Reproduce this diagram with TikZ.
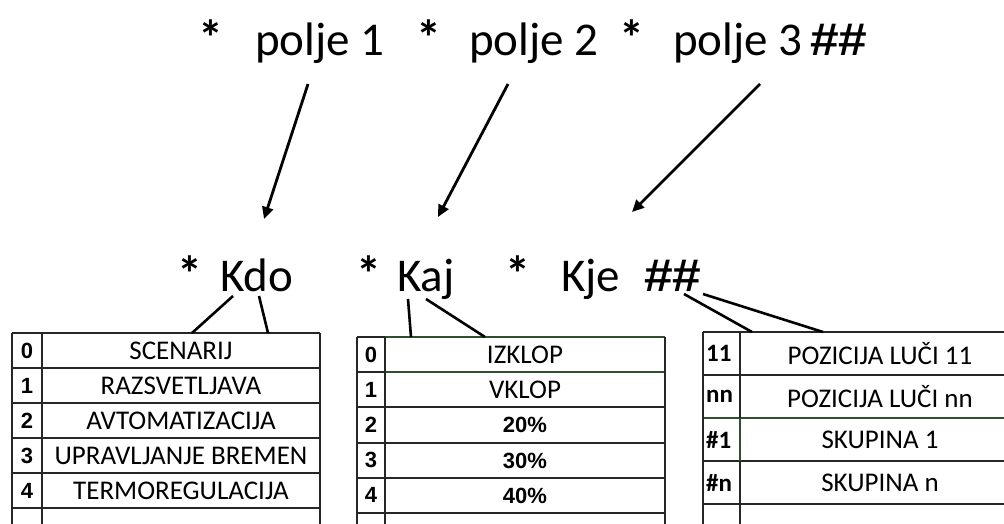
\documentclass[tikz,border=0pt]{standalone}
\usepackage{fontspec}
\setmainfont{Carlito}
\newfontfamily\arialf{Liberation Sans}
\usetikzlibrary{arrows.meta}
\definecolor{gline}{HTML}{2F4F2F}
\begin{document}
\begin{tikzpicture}[x=1pt,y=-1pt,
  big/.style={inner sep=0pt, anchor=base west, font=\fontsize{47}{52}\selectfont},
  star/.style={inner sep=0pt, anchor=base west, font=\bfseries\fontsize{50}{52}\selectfont},
  hash/.style={inner sep=0pt, anchor=base west, font=\arialf\bfseries\fontsize{46}{50}\selectfont},
  cell/.style={inner sep=0pt, font=\fontsize{27}{30}\selectfont},
  numa/.style={inner sep=0pt, font=\arialf\bfseries\fontsize{22}{24}\selectfont},
  numc/.style={inner sep=0pt, anchor=west, font=\bfseries\fontsize{25}{28}\selectfont},
  pct/.style={inner sep=0pt, font=\arialf\bfseries\fontsize{22}{24}\selectfont},
  grid/.style={line width=2.7pt, draw=black!85},
  ggrid/.style={line width=2.7pt, draw=gline},
  conn/.style={line width=2.6pt},
  arr/.style={line width=2.8pt, -{Triangle[length=12pt,width=11pt]}}]
\useasboundingbox (0,0) rectangle (1004,523);
\clip (0,0) rectangle (1004,523);
\fill[white] (0,0) rectangle (1004,523);

% top row
\node[star] (s1) at (198,55) {*};
\node[big] (p1) at (255,55) {polje 1};
\node[star] (s2) at (416,55) {*};
\node[big] (p2) at (469,55) {polje 2};
\node[star] (s3) at (619,55) {*};
\node[big] (p3) at (673,55) {polje 3};
\node[hash] (h1) at (810,55) {\scalebox{1.12}[1]{\#\#}};

% second row
\node[star] (s4) at (177,291) {*};
\node[big] (kdo) at (220,291) {Kdo};
\node[star] (s5) at (356,291) {*};
\node[big] (kaj) at (397,291) {Kaj};
\node[star] (s6) at (505,291) {*};
\node[big] (kje) at (561,291) {Kje};
\node[hash] (h2) at (644,291) {\scalebox{1.12}[1]{\#\#}};

% arrows
\coordinate (a1s) at (308,84);  \coordinate (a1e) at (264,219);
\coordinate (a2s) at (508,84);  \coordinate (a2e) at (438,217);
\coordinate (a3s) at (760,84);  \coordinate (a3e) at (632,212);
\draw[arr] (a1s) -- (a1e);
\draw[arr] (a2s) -- (a2e);
\draw[arr] (a3s) -- (a3e);

% table 1
\foreach \yy in {333,368,403,438,473,508} \draw[grid] (12,\yy) -- (320,\yy);
\foreach \xx in {12,42,320} \draw[grid] (\xx,333) -- (\xx,530);
\foreach \t [count=\i from 0] in {SCENARIJ,RAZSVETLJAVA,AVTOMATIZACIJA,UPRAVLJANJE BREMEN,TERMOREGULACIJA}{
  \node[cell] (ta\i) at (181,{350.5+35*\i}) {\t};
  \node[numa] (na\i) at (27,{350.5+35*\i}) {\i};
}

% table 2
\foreach \yy in {337,372,407,443,478,513} \draw[grid] (357,\yy) -- (665,\yy);
\draw[ggrid] (385,337) -- (665,337);
\draw[ggrid] (385,372) -- (665,372);
\foreach \xx in {357,385,665} \draw[grid] (\xx,337) -- (\xx,530);
\node[cell] (tb0) at (525,354.5) {IZKLOP};
\node[cell] (tb1) at (525,389.5) {VKLOP};
\node[pct] (tb2) at (525,425) {20\%};
\node[pct] (tb3) at (525,460.5) {30\%};
\node[pct] (tb4) at (525,495.5) {40\%};
\foreach \i in {0,...,4} \node[numa] (nb\i) at (371,{354.5+35.2*\i}) {\i};

% table 3
\foreach \yy in {332,375,461,504} \draw[grid] (703,\yy) -- (1024,\yy);
\draw[ggrid] (703,418) -- (1024,418);
\foreach \xx in {703,740} \draw[grid] (\xx,332) -- (\xx,530);
\draw[ggrid] (740,418) -- (740,461);
\node[cell] (tc0) at (880,353.5) {POZICIJA LUČI 11};
\node[cell] (tc1) at (880,396.5) {POZICIJA LUČI nn};
\node[cell] (tc2) at (880,439.5) {SKUPINA 1};
\node[cell] (tc3) at (880,482.5) {SKUPINA n};
\node[numc] (nc0) at (706,353.5) {11};
\node[numc] (nc1) at (706,396.5) {nn};
\node[numc] (nc2) at (706,439.5) {\#1};
\node[numc] (nc3) at (706,482.5) {\#n};

% connectors
\coordinate (k1) at (233,296); \coordinate (e1) at (192,333);
\coordinate (k2) at (259,296); \coordinate (e2) at (268,333);
\coordinate (k3) at (408,299); \coordinate (e3) at (411,337);
\coordinate (k4) at (426,299); \coordinate (e4) at (485,337);
\coordinate (k5) at (684,294); \coordinate (e5) at (752,332);
\coordinate (k6) at (703,294); \coordinate (e6) at (823,332);
\draw[conn] (k1) -- (e1);
\draw[conn] (k2) -- (e2);
\draw[conn] (k3) -- (e3);
\draw[conn] (k4) -- (e4);
\draw[conn] (k5) -- (e5);
\draw[conn] (k6) -- (e6);
\end{tikzpicture}
\end{document}
